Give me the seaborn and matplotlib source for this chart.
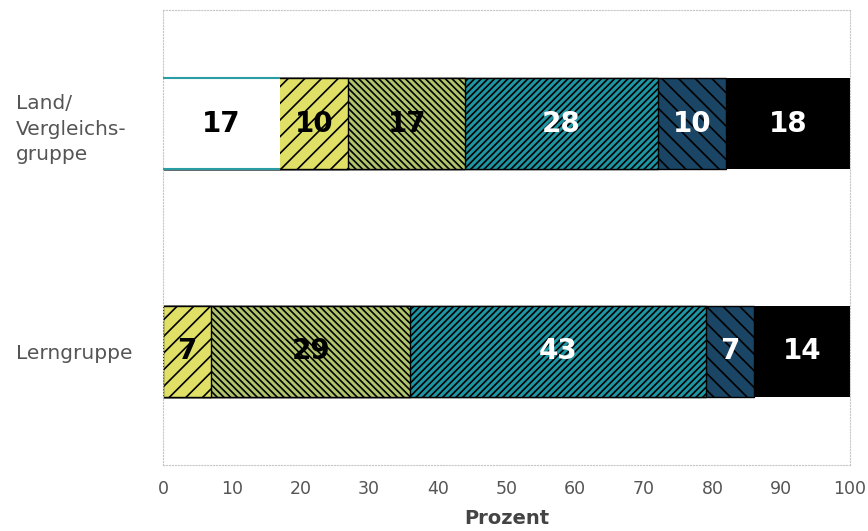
# stacked bar chart: Lerngruppe vs Land/Vergleichsgruppe

import numpy as np
import pandas as pd
import matplotlib
matplotlib.use("Agg")
import matplotlib.pyplot as plt
import seaborn as sns

# data
groups = ["Land/\nVergleichs-\ngruppe", "Lerngruppe"]
seg_white = [17, 0]
seg_yellow = [10, 7]
seg_green = [17, 29]
seg_teal = [28, 43]
seg_navy = [10, 7]
seg_black = [18, 14]
x_ticks = [0, 10, 20, 30, 40, 50, 60, 70, 80, 90, 100]

segments = [seg_white, seg_yellow, seg_green, seg_teal, seg_navy, seg_black]
colors = ["#ffffff", "#dfe065", "#b0c46c", "#1d95a3", "#1a4565", "#000000"]
hatches = [None, "//", "\\" * 5, "/" * 5, "\\\\", None]
edges = ["none", "black", "black", "black", "black", "none"]
text_colors = ["black", "black", "black", "white", "white", "white"]

sns.set_theme(style="white")
plt.rcParams["font.family"] = ["DejaVu Sans"]
plt.rcParams["hatch.linewidth"] = 1.2

fig = plt.figure(figsize=(8.68, 5.31), dpi=100)
ax = fig.add_axes([163 / 868, 1 - 465 / 531, 687 / 868, 455 / 531])

cum = np.cumsum(np.array(segments), axis=0)
bar_w = 0.4

# draw from the longest cumulative bar to the shortest so each covers the previous
for k in range(len(segments) - 1, -1, -1):
    df = pd.DataFrame({"grp": groups, "val": cum[k]})
    sns.barplot(data=df, x="val", y="grp", orient="h", color=colors[k],
                saturation=1, width=bar_w, errorbar=None, ax=ax,
                edgecolor=edges[k], linewidth=1.0)
    for p, v in zip(ax.patches[-len(groups):], segments[k]):
        if hatches[k]:
            p.set_hatch(hatches[k])
        if v == 0:
            p.set_visible(False)

# teal lines on top and bottom of white segment
for i, v in enumerate(seg_white):
    if v > 0:
        ax.hlines([i - bar_w / 2, i + bar_w / 2], 0, v, color="#2a9ca3", lw=1.5, zorder=5)

# value labels
for k, seg in enumerate(segments):
    for i, v in enumerate(seg):
        if v > 0:
            ax.text(cum[k][i] - v / 2, i, str(v), ha="center", va="center",
                    fontsize=20, fontweight="heavy", color=text_colors[k], zorder=6)

ax.set_xlim(0, 100)
ax.set_ylim(1.5, -0.5)
ax.set_xticks(x_ticks)
ax.set_xticklabels([str(t) for t in x_ticks])
ax.set_xlabel("Prozent", fontsize=14, fontweight="bold", color="#444444", labelpad=8)
ax.set_ylabel("")
ax.tick_params(axis="x", length=0, labelsize=12.5, labelcolor="#555555", pad=11)
ax.tick_params(axis="y", length=0, labelsize=14.5, labelcolor="#555555", pad=106)
for lab in ax.get_yticklabels():
    lab.set_ha("left")
    lab.set_linespacing(1.45)

for s in ax.spines.values():
    s.set_linestyle(":")
    s.set_color("#c8c8c8")
    s.set_linewidth(0.8)

plt.savefig("out.png", dpi=100)
